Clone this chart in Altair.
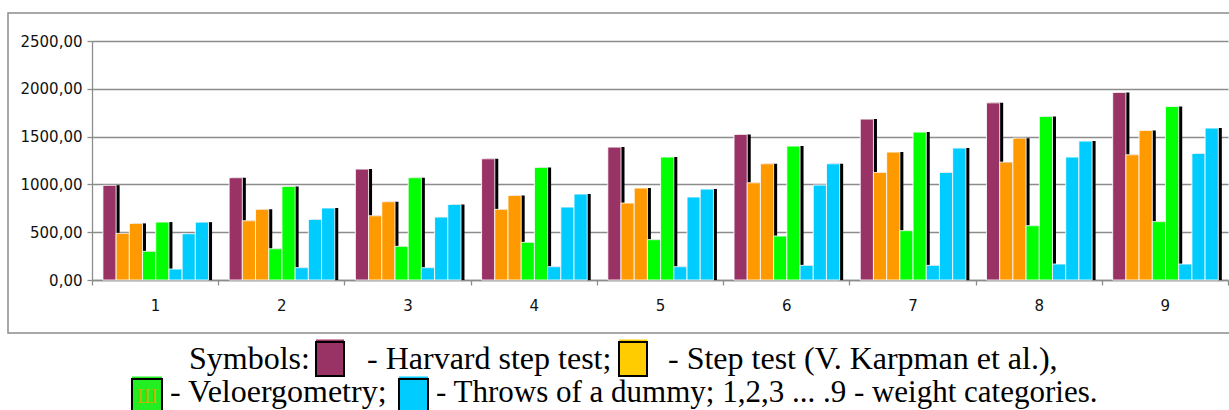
import altair as alt
import pandas as pd

# ---------------- data ----------------
categories = ["1", "2", "3", "4", "5", "6", "7", "8", "9"]
series_ids = ["harvard", "step_a", "step_b", "velo_a", "velo_b", "throw_a", "throw_b", "throw_c"]
harvard = [990, 1070, 1160, 1268, 1390, 1523, 1683, 1853, 1962]
step_a = [488, 620, 672, 739, 805, 1017, 1125, 1233, 1310]
step_b = [592, 739, 819, 885, 962, 1216, 1338, 1484, 1564]
velo_a = [300, 327, 352, 394, 422, 460, 516, 568, 610]
velo_b = [606, 979, 1070, 1178, 1286, 1401, 1547, 1711, 1815]
throw_a = [115, 129, 129, 139, 139, 153, 153, 167, 167]
throw_b = [484, 634, 658, 763, 868, 993, 1125, 1286, 1324]
throw_c = [605, 753, 791, 899, 951, 1216, 1380, 1453, 1589]
series_values = [harvard, step_a, step_b, velo_a, velo_b, throw_a, throw_b, throw_c]
series_colors = ["#993366", "#FF9900", "#FF9900", "#00FF00", "#00FF00", "#00CCFF", "#00CCFF", "#00CCFF"]
y_ticks = [0, 500, 1000, 1500, 2000, 2500]

caption_line1 = ["Symbols:", "- Harvard step test;", "- Step test (V. Karpman et al.),"]
caption_line2 = ["- Veloergometry;", "- Throws of a dummy; 1,2,3 ... .9 - weight categories."]
caption_colors = ["#993366", "#FFCC00", "#22EE22", "#00CCFF"]

rows = []
for sid, vals in zip(series_ids, series_values):
    for c, v in zip(categories, vals):
        rows.append({"group": c, "series": sid, "value": v})
df = pd.DataFrame(rows)

GRID = "#8c8c8c"
AXFONT = "DejaVu Sans"
OX, OY = 92, 41

x_enc = alt.X(
    "group:N", sort=categories,
    scale=alt.Scale(paddingInner=0, paddingOuter=0),
    axis=alt.Axis(title=None, labelAngle=0, tickBand="extent", tickSize=5, tickColor=GRID,
                  tickWidth=1.3, domainColor=GRID, domainWidth=1.3, grid=False,
                  labelFont=AXFONT, labelFontSize=15, labelColor="#111", labelPadding=13),
)
y_enc = alt.Y(
    "value:Q", scale=alt.Scale(domain=[0, 2500], nice=False),
    axis=alt.Axis(title=None, values=y_ticks, tickSize=5, tickColor=GRID, tickWidth=1.3,
                  domainColor=GRID, domainWidth=1.3, gridColor=GRID, gridWidth=1.3,
                  labelFont=AXFONT, labelFontSize=15, labelColor="#111", labelPadding=5,
                  labelExpr="replace(format(datum.value, '.2f'), '.', ',')"),
)
color_enc = alt.Color("series:N", scale=alt.Scale(domain=series_ids, range=series_colors), legend=None)

# shadow: same band layout, shifted a few pixels to the right via scale alignment
shadow = alt.Chart(df).mark_bar(color="black").encode(
    x=x_enc,
    xOffset=alt.XOffset("series:N", sort=series_ids,
                        scale=alt.Scale(paddingInner=0, paddingOuter=0.78, align=0.70)),
    y=y_enc,
)
bars = alt.Chart(df).mark_bar(stroke="white", strokeWidth=1, strokeOpacity=0.85).encode(
    x=x_enc,
    xOffset=alt.XOffset("series:N", sort=series_ids,
                        scale=alt.Scale(paddingInner=0, paddingOuter=0.78, align=0.53)),
    y=y_enc,
    color=color_enc,
)
plot = alt.layer(shadow, bars).resolve_scale(xOffset="independent")

one = pd.DataFrame({"k": [0]})


def text_piece(s, ax, ay, size=31, color="black", font="Liberation Serif"):
    return alt.Chart(one).mark_text(align="left", baseline="alphabetic", font=font,
                                    fontSize=size, color=color).encode(
        x=alt.value(ax - OX), y=alt.value(ay - OY), text=alt.value(s))


def box(x1, x2, y1, y2, fill):
    strip = alt.Chart(one).mark_rect(color=fill).encode(
        x=alt.value(x1 - OX), x2=alt.value(x2 - OX), y=alt.value(y1 - 2.5 - OY), y2=alt.value(y1 - OY))
    b = alt.Chart(one).mark_rect(fill=fill, stroke="black", strokeWidth=2).encode(
        x=alt.value(x1 - OX), x2=alt.value(x2 - OX), y=alt.value(y1 - OY), y2=alt.value(y2 - OY))
    return strip + b


frame = alt.Chart(one).mark_rect(fillOpacity=0, stroke=GRID, strokeWidth=1.5).encode(
    x=alt.value(8 - OX), x2=alt.value(1240 - OX), y=alt.value(13 - OY), y2=alt.value(333 - OY))

caption = (
    text_piece(caption_line1[0], 189, 369, size=32)
    + box(316, 344, 342, 376, caption_colors[0])
    + text_piece(caption_line1[1], 367, 369, size=32)
    + box(619, 647, 342, 376, caption_colors[1])
    + text_piece(caption_line1[2], 668, 369, size=32)
    + box(132, 162, 379, 414, caption_colors[2])
    + alt.Chart(one).mark_text(align="center", baseline="alphabetic", font="Liberation Serif",
                               fontSize=21, color="#b8b800").encode(
        x=alt.value(147 - OX), y=alt.value(403 - OY), text=alt.value("Ш"))
    + text_piece(caption_line2[0], 170, 402, size=32)
    + box(399, 428, 379, 414, caption_colors[3])
    + text_piece(caption_line2[1], 436, 402)
)

chart = alt.layer(frame, plot, caption).properties(
    width=1136, height=239,
    autosize=alt.AutoSizeParams(type="none"),
    padding={"left": OX, "top": OY, "right": 1, "bottom": 130},
    background="white",
).configure_view(strokeWidth=0)

chart.save("out.html", embed_options={"renderer": "svg", "actions": False})
